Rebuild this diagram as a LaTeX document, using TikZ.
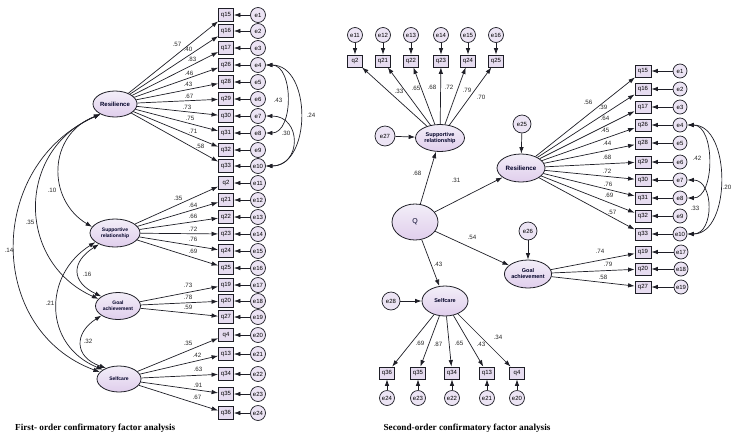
\documentclass[tikz,border=0pt]{standalone}
\usepackage{fontspec}
\setmainfont{Liberation Sans}
\newfontfamily\titlefont{Liberation Serif}
\usetikzlibrary{shapes.geometric,arrows.meta}
\definecolor{lavA}{RGB}{242,238,248}
\definecolor{lavB}{RGB}{224,206,236}
\definecolor{errfill}{RGB}{236,228,244}
\definecolor{boxfill}{RGB}{230,220,240}
\definecolor{edge}{RGB}{30,30,38}
\definecolor{numc}{RGB}{40,40,40}
\tikzset{
  obs/.style={draw=edge, fill=boxfill, rectangle, minimum width=15pt, minimum height=13pt, inner sep=0pt, line width=0.8pt, font=\fontsize{6}{6}\selectfont},
  err/.style={draw=edge, fill=errfill, circle, minimum size=15pt, inner sep=0pt, line width=0.7pt, font=\fontsize{6}{6}\selectfont},
  lat/.style={draw=edge, top color=lavA, bottom color=lavB, ellipse, inner sep=0pt, line width=0.8pt, align=center, text=black!85!blue, font=\fontsize{5.5}{5.8}\selectfont\bfseries},
  load/.style={-{Latex[length=6.5pt,width=4.5pt]}, line width=0.7pt, draw=edge},
  cov/.style={{Latex[length=6.5pt,width=4.5pt]}-{Latex[length=6.5pt,width=4.5pt]}, line width=0.7pt, draw=edge},
  num/.style={font=\fontsize{6.2}{6.2}\selectfont, text=numc, inner sep=0pt},
  ttl/.style={font=\titlefont\fontsize{9.2}{10}\selectfont\bfseries, inner sep=0pt}
}
\begin{document}
\begin{tikzpicture}[x=1pt,y=-1pt]
\useasboundingbox (0,0) rectangle (737,440);
% ================= LEFT: first-order =================
\node[lat, minimum width=44pt, minimum height=26pt, font=\fontsize{6}{6}\selectfont\bfseries] (Lres) at (115,104) {Resilience};
\node[lat, minimum width=50pt, minimum height=28pt, font=\fontsize{5}{5.6}\selectfont\bfseries] (Lsup) at (115,233) {Supportive\\relationship};
\node[lat, minimum width=45pt, minimum height=27pt, font=\fontsize{5}{5.6}\selectfont\bfseries] (Lgoal) at (118,306) {Goal\\achievement};
\node[lat, minimum width=44pt, minimum height=26pt, font=\fontsize{5}{5.6}\selectfont\bfseries] (Lself) at (119,379) {Selfcare};

\foreach \q/\y/\e in {15/15/1,16/31/2,17/48/3,26/65/4,28/82/5,29/99/6,30/116/7,31/133/8,32/150/9,33/166/10}{
  \node[obs] (Lq\q) at (226,\y) {q\q};
  \node[err] (Le\e) at (258,\y) {e\e};
  \draw[load] (Le\e) -- (Lq\q);
  \draw[load] (Lres) -- (Lq\q);
}
\foreach \q/\y/\e in {2/183/11,21/200/12,22/217/13,23/234/14,24/251/15,25/268/16}{
  \node[obs] (Lq\q) at (226,\y) {q\q};
  \node[err] (Le\e) at (258,\y) {e\e};
  \draw[load] (Le\e) -- (Lq\q);
  \draw[load] (Lsup) -- (Lq\q);
}
\foreach \q/\y/\e in {19/285/17,20/301/18,27/317/19}{
  \node[obs] (Lq\q) at (226,\y) {q\q};
  \node[err] (Le\e) at (258,\y) {e\e};
  \draw[load] (Le\e) -- (Lq\q);
  \draw[load] (Lgoal) -- (Lq\q);
}
\foreach \q/\y/\e in {4/335/20,13/354/21,34/374/22,35/394/23,36/413/24}{
  \node[obs] (Lq\q) at (226,\y) {q\q};
  \node[err] (Le\e) at (258,\y) {e\e};
  \draw[load] (Le\e) -- (Lq\q);
  \draw[load] (Lself) -- (Lq\q);
}
% loading values (left)
\foreach \v/\x/\y in {.57/177/44,.40/188/49,.83/192/59,.46/189/73,.43/188/84,.67/189/96,.73/187/107,.75/190/118,.71/193/131,.58/200/146,
  .35/178/198,.64/193/205,.66/193/216,.72/193/229,.76/193/239,.69/193/251,
  .73/188/285,.78/188/297,.59/188/307,
  .35/188/343,.42/197/355,.63/198/369,.91/198/385,.67/197/397}{
  \node[num] at (\x,\y) {\v};
}
% factor covariances (left)
\draw[cov] (Lres.215) .. controls (47,135) and (47,200) .. (Lsup.165);
\draw[cov] (Lres.215) .. controls (16,150) and (16,262) .. (Lgoal.160);
\draw[cov] (Lres.215) .. controls (-14,165) and (-14,330) .. (Lself.160);
\draw[cov] (Lsup.215) .. controls (71,262) and (71,282) .. (Lgoal.150);
\draw[cov] (Lsup.205) .. controls (43,275) and (43,345) .. (Lself.150);
\draw[cov] (Lgoal.210) .. controls (74,333) and (74,357) .. (Lself.140);
\node[num] at (52,190) {.10};
\node[num] at (30,222) {.35};
\node[num] at (9,250) {.14};
\node[num] at (87,274) {.16};
\node[num] at (50,303) {.21};
\node[num] at (88,341) {.32};
% error covariances (left)
\draw[cov] (Le4.east) .. controls +(28,0) and +(28,0) .. (Le8.east);
\draw[cov] (Le7.east) .. controls +(36,0) and +(36,0) .. (Le10.east);
\draw[cov] (Le4.east) .. controls +(46,0) and +(46,0) .. (Le10.east);
\node[num] at (278,100) {.43};
\node[num] at (286,133) {.30};
\node[num] at (311,115) {.24};
\node[ttl, anchor=west] (Lttl) at (15,428) {First- order confirmatory factor analysis};

% ================= RIGHT: second-order =================
\node[lat, minimum width=46pt, minimum height=36pt, font=\fontsize{7}{7}\selectfont] (Q) at (415,222) {Q};
\node[lat, minimum width=49pt, minimum height=27pt, font=\fontsize{5.5}{6}\selectfont\bfseries] (Rsup) at (440,138) {Supportive\\relationship};
\node[lat, minimum width=48pt, minimum height=28pt, font=\fontsize{6.2}{6.2}\selectfont\bfseries] (Rres) at (521,168) {Resilience};
\node[lat, minimum width=46pt, minimum height=28pt, font=\fontsize{5.5}{6}\selectfont\bfseries] (Rgoal) at (528,274) {Goal\\achievement};
\node[lat, minimum width=46pt, minimum height=30pt, font=\fontsize{5.5}{6}\selectfont\bfseries] (Rself) at (445,301) {Selfcare};

\node[err, minimum size=20pt] (Re27) at (385,136) {e27};
\node[err, minimum size=18pt] (Re25) at (522,124) {e25};
\node[err, minimum size=18pt] (Re26) at (528,231) {e26};
\node[err, minimum size=18pt] (Re28) at (391,301) {e28};
\draw[load] (Re27) -- (Rsup);
\draw[load] (Re25) -- (Rres);
\draw[load] (Re26) -- (Rgoal);
\draw[load] (Re28) -- (Rself);

\draw[load] (Q) -- (Rsup);
\draw[load] (Q) -- (Rres);
\draw[load] (Q) -- (Rgoal);
\draw[load] (Q) -- (Rself);
\node[num] at (417,173) {.68};
\node[num] at (456,180) {.31};
\node[num] at (472,237) {.54};
\node[num] at (438,264) {.43};

\foreach \q/\x/\e in {2/355/11,21/383/12,22/411/13,23/441/14,24/468/15,25/496/16}{
  \node[obs, minimum height=12pt] (Rq\q) at (\x,61) {q\q};
  \node[err] (Re\e) at (\x,35) {e\e};
  \draw[load] (Re\e) -- (Rq\q);
  \draw[load] (Rsup) -- (Rq\q);
}
\foreach \q/\y/\e in {15/71/1,16/89/2,17/107/3,26/125/4,28/143/5,29/162/6,30/180/7,31/198/8,32/216/9,33/234/10}{
  \node[obs, minimum width=16pt, minimum height=12pt] (Rq\q) at (643,\y) {q\q};
  \node[err, minimum size=14pt] (Re\e) at (680,\y) {e\e};
  \draw[load] (Re\e) -- (Rq\q);
  \draw[load] (Rres) -- (Rq\q);
}
\foreach \q/\y/\e in {19/252/17,20/269/18,27/287/19}{
  \node[obs, minimum width=16pt, minimum height=12pt] (Rq\q) at (643,\y) {q\q};
  \node[err, minimum size=14pt] (Re\e) at (681,\y) {e\e};
  \draw[load] (Re\e) -- (Rq\q);
  \draw[load] (Rgoal) -- (Rq\q);
}
\foreach \q/\x/\e in {36/387/24,35/418/23,34/452/22,13/487/21,4/517/20}{
  \node[obs, minimum height=12pt] (Rq\q) at (\x,373) {q\q};
  \node[err] (Re\e) at (\x,398) {e\e};
  \draw[load] (Re\e) -- (Rq\q);
  \draw[load] (Rself) -- (Rq\q);
}
% loading values (right)
\foreach \v/\x/\y in {.33/399/91,.65/416/88,.68/432/87,.72/449/87,.79/467/90,.70/481/97,
  .56/588/102,.39/603/107,.64/605/118,.45/605/130,.44/607/143,.68/607/157,.72/607/171,.76/608/184,.69/609/195,.57/612/212,
  .74/600/251,.79/608/264,.58/603/277,
  .69/420/343,.87/438/344,.65/459/343,.43/481/344,.34/498/337}{
  \node[num] at (\x,\y) {\v};
}
% error covariances (right)
\draw[cov] (Re4.east) .. controls +(28,0) and +(28,0) .. (Re8.east);
\draw[cov] (Re7.east) .. controls +(27,0) and +(27,0) .. (Re10.east);
\draw[cov] (Re4.east) .. controls +(44,0) and +(44,0) .. (Re10.east);
\node[num] at (697,158) {.42};
\node[num] at (695,208) {.33};
\node[num] at (727,187) {.20};
\node[ttl] (Rttl) at (467,428) {Second-order confirmatory factor analysis};
\end{tikzpicture}
\end{document}
